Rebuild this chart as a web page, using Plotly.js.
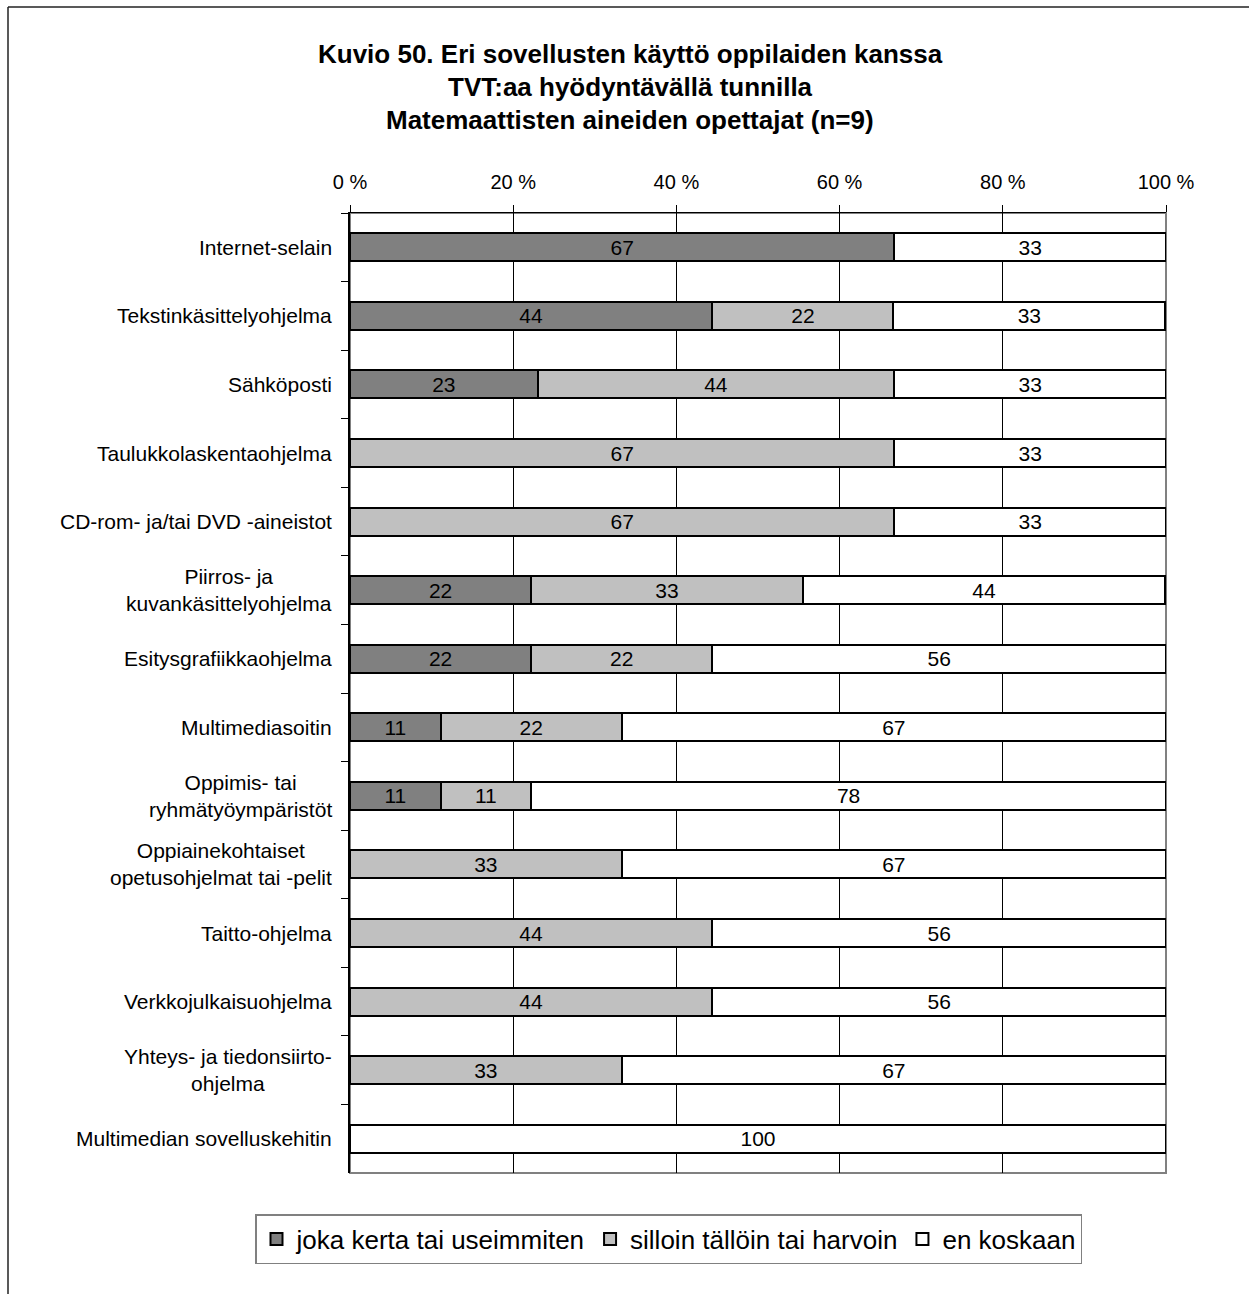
<!DOCTYPE html>
<html>
<head>
<meta charset="utf-8">
<script src="https://cdn.plot.ly/plotly-3.0.1.min.js"></script>
<style>html,body{margin:0;padding:0;background:#fff;overflow:hidden;}</style>
</head>
<body>
<div id="chart" style="width:1249px;height:1294px;"></div>
<script>
const categories = [
  "Internet-selain",
  "Tekstinkäsittelyohjelma",
  "Sähköposti",
  "Taulukkolaskentaohjelma",
  "CD-rom- ja/tai DVD -aineistot",
  "Piirros- ja<br>kuvankäsittelyohjelma",
  "Esitysgrafiikkaohjelma",
  "Multimediasoitin",
  "Oppimis- tai<br>ryhmätyöympäristöt",
  "Oppiainekohtaiset<br>opetusohjelmat tai -pelit",
  "Taitto-ohjelma",
  "Verkkojulkaisuohjelma",
  "Yhteys- ja tiedonsiirto-<br>ohjelma",
  "Multimedian sovelluskehitin"
];
const seriesNames = ["joka kerta tai useimmiten", "silloin tällöin tai harvoin", "en koskaan"];
const jokaKerta = [66.7, 44.4, 23.0, 0, 0, 22.2, 22.2, 11.1, 11.1, 0, 0, 0, 0, 0];
const silloinTalloin = [0, 22.2, 43.7, 66.7, 66.7, 33.3, 22.2, 22.2, 11.1, 33.3, 44.4, 44.4, 33.3, 0];
const enKoskaan = [33.3, 33.3, 33.3, 33.3, 33.3, 44.4, 55.6, 66.7, 77.8, 66.7, 55.6, 55.6, 66.7, 100];
const colors = ["#808080", "#c0c0c0", "#ffffff"];
const titleLines = [
  "Kuvio 50. Eri sovellusten käyttö oppilaiden kanssa",
  "TVT:aa hyödyntävällä tunnilla",
  "Matemaattisten aineiden opettajat (n=9)"
];

const FONT = "Liberation Sans, Arial, sans-serif";
const allSeries = [jokaKerta, silloinTalloin, enKoskaan];

const traces = allSeries.map((vals, i) => ({
  type: "bar",
  orientation: "h",
  name: seriesNames[i],
  y: categories,
  x: vals,
  text: vals.map(v => v > 0 ? String(Math.round(v)) : ""),
  textposition: "inside",
  insidetextanchor: "middle",
  textangle: 0,
  constraintext: "none",
  textfont: {family: FONT, size: 21, color: "#000"},
  marker: {color: colors[i], line: {color: "#000", width: 2}},
  hoverinfo: "skip"
}));

// plot area geometry (px): left 350, right 1166, top 213, bottom 1173
const W = 1249, H = 1294;
const mL = 350, mR = W - 1166, mT = 213, mB = H - 1173;
const plotH = H - mT - mB;
const plotW = W - mL - mR;
const py = px => (H - mB - px) / plotH;
const pxX = px => (px - mL) / plotW;

const annotations = [];
const titleY = [54, 87, 120];
titleLines.forEach((t, i) => {
  annotations.push({
    xref: "paper", yref: "paper",
    x: pxX(630), y: py(titleY[i]),
    xanchor: "center", yanchor: "middle",
    text: "<b>" + t + "</b>",
    showarrow: false,
    font: {family: FONT, size: 26, color: "#000"}
  });
});
categories.forEach(c => {
  annotations.push({
    xref: "paper", yref: "y",
    x: 0, y: c, xshift: -16,
    xanchor: "right", yanchor: "middle",
    align: "center",
    text: c,
    showarrow: false,
    font: {family: FONT, size: 21, color: "#000"}
  });
});

const layout = {
  width: W, height: H,
  margin: {l: mL, r: mR, t: mT, b: mB, pad: 0},
  paper_bgcolor: "#fff",
  plot_bgcolor: "#fff",
  barmode: "stack",
  bargap: 0.59,
  showlegend: true,
  font: {family: FONT, color: "#000"},
  xaxis: {
    side: "top",
    range: [0, 100],
    tick0: 0, dtick: 20,
    ticksuffix: " %",
    ticks: "outside", ticklen: 7, tickcolor: "#000", tickwidth: 1,
    ticklabelstandoff: 8,
    showgrid: true, gridcolor: "#000", gridwidth: 1,
    showline: true, linecolor: "#000", linewidth: 1.5,
    zeroline: false,
    tickfont: {family: FONT, size: 20, color: "#000"},
    fixedrange: true
  },
  yaxis: {
    type: "category",
    categoryarray: categories,
    autorange: "reversed",
    tickson: "boundaries",
    ticks: "outside", ticklen: 7, tickcolor: "#000", tickwidth: 1,
    showticklabels: false,
    showgrid: false,
    showline: true, linecolor: "#000", linewidth: 2,
    zeroline: false,
    fixedrange: true
  },
  legend: {
    orientation: "h",
    xref: "paper", yref: "paper",
    x: pxX(255), y: py(1214),
    xanchor: "left", yanchor: "top",
    bordercolor: "#808080", borderwidth: 1.5,
    bgcolor: "#fff",
    font: {family: FONT, size: 26, color: "#000"},
    traceorder: "normal",
    itemclick: false, itemdoubleclick: false
  },
  shapes: [
    {type: "rect", xref: "paper", yref: "paper", x0: 0, x1: 1, y0: 0, y1: 1,
     line: {color: "#808080", width: 2}, layer: "below"},
    {type: "line", xref: "paper", yref: "paper",
     x0: pxX(8), x1: pxX(1300), y0: py(7), y1: py(7),
     line: {color: "#222", width: 1.5}, layer: "below"},
    {type: "line", xref: "paper", yref: "paper",
     x0: pxX(8), x1: pxX(8), y0: py(7), y1: py(1340),
     line: {color: "#222", width: 1.5}, layer: "below"}
  ],
  annotations: annotations
};

Plotly.newPlot("chart", traces, layout, {staticPlot: true, displayModeBar: false});
</script>
</body>
</html>
